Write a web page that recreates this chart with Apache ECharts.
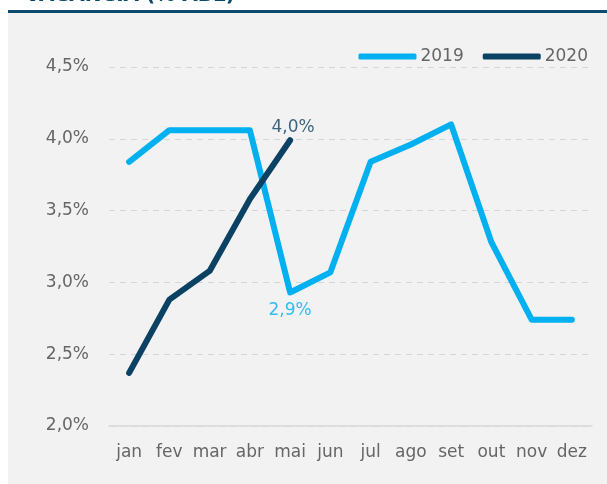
<!DOCTYPE html>
<html>
<head>
<meta charset="utf-8">
<script src="https://cdn.jsdelivr.net/npm/echarts@6/dist/echarts.min.js"></script>
<style>html,body{margin:0;padding:0;background:#fff}#c{width:607px;height:484px}</style>
</head>
<body>
<div id="c"></div>
<script>
var categories = ['jan','fev','mar','abr','mai','jun','jul','ago','set','out','nov','dez'];
var values2019 = [3.84, 4.06, 4.06, 4.06, 2.93, 3.07, 3.84, 3.96, 4.10, 3.28, 2.74, 2.74];
var values2020 = [2.37, 2.88, 3.08, 3.58, 3.99];
var yTicks = [2.0, 2.5, 3.0, 3.5, 4.0, 4.5];
var titleText = 'VACÂNCIA (% ABL)';

var C19 = '#00b0f0', C20 = '#0b4163';
var font = '"DejaVu Sans", sans-serif';
function pct(v){ return v.toFixed(1).replace('.', ',') + '%'; }

var chart = echarts.init(document.getElementById('c'), null, {renderer:'canvas'});
chart.setOption({
  backgroundColor: '#ffffff',
  animation: false,
  graphic: [
    {type:'rect', shape:{x:8, y:13, width:599, height:471}, style:{fill:'#f2f2f2'}, z:-10, silent:true},
    {type:'rect', shape:{x:8, y:10, width:599, height:3}, style:{fill:'#0b4a6f'}, z:-5, silent:true},
    {type:'text', left:25, top:-14, style:{text:titleText, fill:'#0b4a6f', font:'bold 20px ' + font}}
  ],
  legend: {
    right: 14, top: 43,
    itemWidth: 58, itemHeight: 6, itemGap: 19,
    icon: 'roundRect',
    textStyle: {color:'#666', fontSize:17, fontFamily:font, padding:[0,0,0,-1]},
    data: ['2019','2020']
  },
  grid: {left:109, right:15, top:67, bottom:58},
  xAxis: {
    type:'category', data:categories, boundaryGap:true,
    axisLine:{lineStyle:{color:'#d9d9d9', width:1.5}},
    axisTick:{show:false},
    axisLabel:{color:'#666', fontSize:17, fontFamily:font, margin:18, interval:0}
  },
  yAxis: {
    type:'value', min:yTicks[0], max:yTicks[yTicks.length-1], interval:0.5,
    axisLine:{show:false}, axisTick:{show:false},
    splitLine:{lineStyle:{color:'#d6d6d6', type:[6,5], width:1}},
    axisLabel:{color:'#666', fontSize:17, fontFamily:font, margin:20, formatter:function(v){return pct(v);}}
  },
  series: [
    {
      name:'2019', type:'line', data:values2019, symbol:'none', color:C19,
      lineStyle:{width:6, color:C19, cap:'round', join:'round'}
    },
    {
      name:'2020', type:'line', data:values2020, symbol:'none', color:C20,
      lineStyle:{width:6, color:C20, cap:'round', join:'round'}
    },
    {
      name:'lbl2019', type:'scatter', symbolSize:0, silent:true,
      data: [{value:[4, values2019[4]], label:{show:true, position:'bottom', distance:10, formatter:'2,9%', color:C19, fontSize:17, fontFamily:font}}]
    },
    {
      name:'lbl2020', type:'scatter', symbolSize:0, silent:true,
      data: [{value:[4, values2020[4]], label:{show:true, position:'top', distance:4, offset:[3,0], formatter:'4,0%', color:C20, fontSize:17, fontFamily:font}}]
    }
  ]
});
</script>
</body>
</html>
